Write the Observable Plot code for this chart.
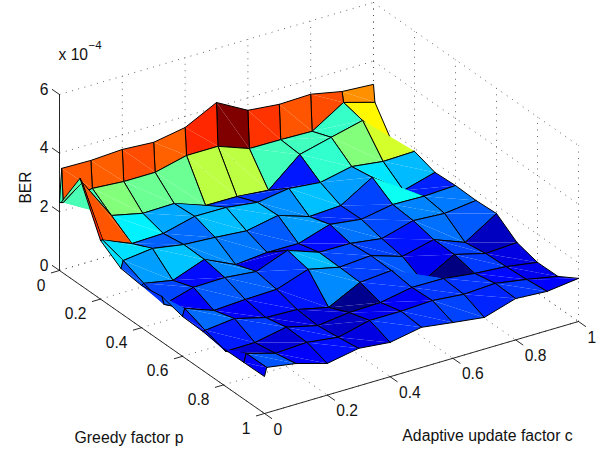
<!DOCTYPE html>
<html><head><meta charset="utf-8">
<script src="https://cdn.jsdelivr.net/npm/d3@7"></script>
<script src="https://cdn.jsdelivr.net/npm/@observablehq/plot@0.6"></script>
<style>html,body{margin:0;padding:0;background:#fff}svg{display:block}</style>
</head><body><div id="chart"></div>
<script>
// Greedy factor p (rows) and adaptive update factor c (columns); both grids start 0, ~0, 0.1 ...
const pFactor = [0, 0.007, 0.1, 0.2, 0.3, 0.4, 0.5, 0.6, 0.7, 0.8, 0.9, 1];
const cFactor = [0, 0.007, 0.1, 0.2, 0.3, 0.4, 0.5, 0.6, 0.7, 0.8, 0.9, 1];
// BER in units of 1e-4, one list per p value
const berP000 = [2.32,3.46,3.44,3.50,3.43,3.62,4.16,3.58,3.47,3.50,3.28,3.21];
const berP001 = [2.35,2.33,2.52,2.44,2.44,2.70,2.70,2.31,2.30,2.27,2.94,2.63];
const berP01  = [3.63,3.47,2.05,1.81,1.83,1.45,1.44,1.34,2.25,2.52,2.78,1.58];
const berP02  = [2.00,1.99,1.58,1.61,1.88,1.87,1.73,1.89,1.78,2.01,1.87,1.90];
const berP03  = [1.53,1.78,1.90,1.72,1.65,1.56,1.77,1.42,1.48,2.13,1.37,1.67];
const berP04  = [1.44,1.49,1.30,1.70,1.21,1.31,1.30,1.64,1.50,1.69,1.66,1.71];
const berP05  = [1.55,1.26,1.55,1.57,1.46,1.87,1.49,1.48,1.33,1.63,1.56,1.69];
const berP06  = [1.36,1.61,1.25,1.31,1.34,1.71,1.47,1.55,1.21,1.47,1.06,1.73];
const berP07  = [1.33,1.35,1.46,1.18,1.14,0.90,1.44,1.53,0.85,1.45,1.17,1.23];
const berP08  = [1.24,1.12,1.13,1.34,1.08,1.21,1.24,1.44,1.43,1.29,1.21,1.04];
const berP09  = [1.25,1.54,1.25,1.31,1.17,1.43,1.43,1.48,1.38,1.44,1.26,1.05];
const berP10  = [1.26,1.55,1.39,1.08,1.28,1.17,1.37,1.22,1.08,1.41,1.34,1.47];
const ber = [berP000,berP001,berP01,berP02,berP03,berP04,berP05,berP06,berP07,berP08,berP09,berP10];
const horizTicks = [0, 0.2, 0.4, 0.6, 0.8, 1];
const berTicks = [0, 2, 4, 6];

// Orthographic view of the 3-D box
const view = {x0: 59, y0: 270, px: 205, py: 143, cx: 314, cy: -92, zy: -29.33};
const X = (p, c) => view.x0 + p * view.px + c * view.cx;
const Y = (p, c, z) => view.y0 + p * view.py + c * view.cy + z * view.zy;
const pt = (p, c, z) => ({X: X(p, c), Y: Y(p, c, z)});

// MATLAB jet
const jet = t => {
  const f = a => Math.max(0, Math.min(1, a));
  const r = f(Math.min(4 * t - 1.5, -4 * t + 4.5));
  const g = f(Math.min(4 * t - 0.5, -4 * t + 3.5));
  const b = f(Math.min(4 * t + 0.5, -4 * t + 2.5));
  return d3.rgb(r * 255, g * 255, b * 255).formatHex();
};

const line = {x: "X", y: "Y"};
const marks = [];

// dotted box grid
const grid = [];
const seg = (a, b) => grid.push({...a}, {...b});
for (const t of horizTicks) {
  seg(pt(0, t, 0), pt(1, t, 0));       // floor
  seg(pt(t, 0, 0), pt(t, 1, 0));       // floor
  seg(pt(0, t, 0), pt(0, t, 6));       // back wall p=0
  seg(pt(t, 1, 0), pt(t, 1, 6));       // back wall c=1
}
for (const z of berTicks) {
  seg(pt(0, 0, z), pt(0, 1, z));
  seg(pt(0, 1, z), pt(1, 1, z));
}
grid.forEach((d, i) => d.s = Math.floor(i / 2));
marks.push(Plot.line(grid, {...line, z: "s", stroke: "#444", strokeWidth: 0.9, strokeDasharray: "0.9 5.6", strokeLinecap: "butt"}));

// axes and ticks
const axes = [];
const ax = (a, b) => axes.push({...a}, {...b});
ax(pt(0, 0, 0), pt(1, 0, 0));
ax(pt(1, 0, 0), pt(1, 1, 0));
ax(pt(0, 0, 0), pt(0, 0, 6));
for (const t of horizTicks) {
  ax(pt(t, 0, 0), pt(t, -0.026, 0));
  ax(pt(1, t, 0), pt(1.035, t, 0));
}
for (const z of berTicks) ax(pt(0, 0, z), pt(-0.035, 0, z));
axes.forEach((d, i) => d.s = Math.floor(i / 2));
marks.push(Plot.line(axes, {...line, z: "s", stroke: "#111", strokeWidth: 0.9}));

// surface, painted back to front: each quad is two flat triangles, and the edges of
// the first triangle are laid before the second so that folded quads hide them
const edge = {...line, stroke: "#000", strokeWidth: 1, fill: "none"};
for (let i = 0; i < pFactor.length - 1; i++) {
  for (let j = cFactor.length - 2; j >= 0; j--) {
    const v = (a, b) => pt(pFactor[a], cFactor[b], ber[a][b]);
    const A = v(i, j), B = v(i, j + 1), C = v(i + 1, j + 1), D = v(i + 1, j);
    const col = ber[i][j];
    const tag = P => ({...P, v: col});
    marks.push(Plot.line([A, B, C].map(tag), {...line, fill: "v", stroke: "none"}));
    marks.push(Plot.line([A, B, C], edge));
    marks.push(Plot.line([A, C, D].map(tag), {...line, fill: "v", stroke: "none"}));
    marks.push(Plot.line([C, D, A], edge));
  }
}

// tick labels
const font = {fontSize: 15.6, fill: "#111"};
marks.push(Plot.text(berTicks, {x: () => X(0, 0), y: d => Y(0, 0, d), text: d => String(d), textAnchor: "end", dx: -11, dy: -5, ...font}));
marks.push(Plot.text(horizTicks, {x: d => X(d, 0), y: d => Y(d, 0, 0), text: d => String(d), textAnchor: "end", dx: -14, dy: 15, ...font}));
marks.push(Plot.text(horizTicks, {x: d => X(1, d), y: d => Y(1, d, 0), text: d => String(d), textAnchor: "start", dx: 9, dy: 16, ...font}));

// titles
marks.push(Plot.text(["Greedy factor p"], {x: () => 128.5, y: () => 437, text: d => d, ...font, fontSize: 15.8}));
marks.push(Plot.text(["Adaptive update factor c"], {x: () => 487, y: () => 435, text: d => d, ...font, fontSize: 15.8}));
marks.push(Plot.text(["BER"], {x: () => 25, y: () => 187, text: d => d, rotate: -90, ...font}));
marks.push(Plot.text(["x 10"], {x: () => 58, y: () => 54, text: d => d, textAnchor: "start", ...font}));
marks.push(Plot.text(["\u22124"], {x: () => 88, y: () => 45, text: d => d, textAnchor: "start", ...font, fontSize: 11.5}));

const chart = Plot.plot({
  width: 608, height: 452, margin: 0,
  style: {fontFamily: "'Liberation Sans', Arial, sans-serif", background: "#fff", overflow: "visible"},
  x: {domain: [0, 608], range: [0, 608], axis: null},
  y: {domain: [0, 452], range: [0, 452], axis: null},
  color: {type: "linear", domain: d3.extent(ber.flat()), interpolate: jet},
  marks
});
document.getElementById("chart").append(chart);
</script></body></html>
